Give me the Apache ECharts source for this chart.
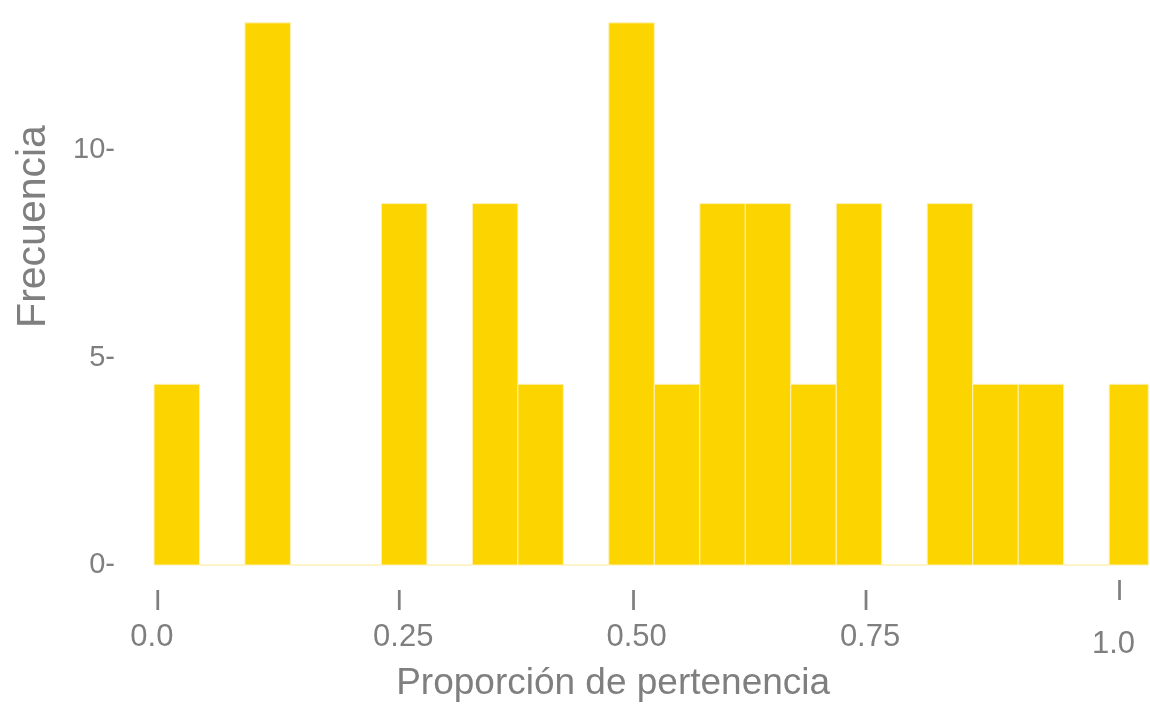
<!DOCTYPE html>
<html>
<head>
<meta charset="utf-8">
<script src="https://cdn.jsdelivr.net/npm/echarts@6/dist/echarts.min.js"></script>
<style>
  html, body { margin: 0; padding: 0; background: #fff; }
  #chart { width: 1150px; height: 707px; }
</style>
</head>
<body>
<div id="chart"></div>
<script>
// histogram bins (x in proportion units)
const binStart = -0.004;
const binWidth = 0.0473;
const freq = [4.36, 0, 13.08, 0, 0, 8.72, 0, 8.72, 4.36, 0, 13.08, 4.36,
              8.72, 8.72, 4.36, 8.72, 0, 8.72, 4.36, 4.36, 0, 4.36];

const xTickValues = [0, 0.25, 0.5, 0.75, 1.0];
const xTickLabels = ['0.0', '0.25', '0.50', '0.75', '1.0'];
const yTickInterval = 5;

const gray = '#7f7f7f';
const barColor = '#fcd500';

// small per-label nudges to follow the original picture
const tickShift = [
    {i: 0, n: -6, top: 40, gap: 30},
    {i: 1, n: 5, top: 40, gap: 30},
    {i: -5, n: -2, top: 40, gap: 30},
    {i: -13, n: -9, top: 40, gap: 30},
    {i: 0, n: -6, top: 20, gap: 84}
];

function pad(dx) {
    return dx >= 0 ? [0, 0, 0, 2 * dx] : [0, -2 * dx, 0, 0];
}

const rich = {};
tickShift.forEach(function (s, k) {
    rich['i' + k] = {fontSize: 29, color: gray, lineHeight: s.top, padding: pad(s.i), fontFamily: 'Liberation Sans'};
    rich['n' + k] = {fontSize: 31, color: gray, lineHeight: s.gap, padding: pad(s.n), fontFamily: 'Liberation Sans'};
});

const bins = freq.map(function (f, k) {
    return [binStart + k * binWidth, binStart + (k + 1) * binWidth, f];
});

const chart = echarts.init(document.getElementById('chart'));

const option = {
    backgroundColor: '#fff',
    animation: false,
    grid: {left: 154, right: 0, top: 22, bottom: 138},
    xAxis: {
        type: 'value',
        min: binStart,
        max: 1.03,
        axisLine: {show: false},
        axisTick: {show: false},
        splitLine: {show: false},
        axisLabel: {
            customValues: xTickValues,
            margin: 17,
            verticalAlign: 'top',
            formatter: function (v) {
                const k = xTickValues.indexOf(v);
                return '{i' + k + '|I}\n{n' + k + '|' + xTickLabels[k] + '}';
            },
            rich: rich
        },
        name: 'Proporción de pertenencia',
        nameLocation: 'middle',
        nameGap: 100,
        nameTextStyle: {fontSize: 37, color: gray, fontFamily: 'Liberation Sans', padding: [0, 76, 0, 0]}
    },
    yAxis: {
        type: 'value',
        min: 0,
        max: 13.1,
        interval: yTickInterval,
        axisLine: {show: false},
        axisTick: {show: false},
        splitLine: {show: false},
        axisLabel: {
            showMaxLabel: false,
            margin: 39,
            fontSize: 29,
            color: gray,
            fontFamily: 'Liberation Sans',
            padding: [0, 0, 8, 0],
            formatter: function (v) { return v + '-'; }
        },
        name: 'Frecuencia',
        nameLocation: 'middle',
        nameGap: 100,
        nameTextStyle: {fontSize: 41, color: gray, fontFamily: 'Liberation Sans', padding: [0, 0, 0, 134]}
    },
    series: [{
        type: 'custom',
        encode: {x: [0, 1], y: 2},
        data: bins,
        renderItem: function (params, api) {
            const p0 = api.coord([api.value(0), api.value(2)]);
            const p1 = api.coord([api.value(1), 0]);
            const shape = echarts.graphic.clipRectByRect({
                x: p0[0], y: p0[1], width: p1[0] - p0[0], height: p1[1] - p0[1]
            }, {
                x: params.coordSys.x, y: params.coordSys.y - 1,
                width: params.coordSys.width, height: params.coordSys.height + 2
            });
            return shape && {
                type: 'rect',
                shape: shape,
                style: {fill: barColor, stroke: '#fdf0b8', lineWidth: 1}
            };
        }
    }]
};

chart.setOption(option);
</script>
</body>
</html>
